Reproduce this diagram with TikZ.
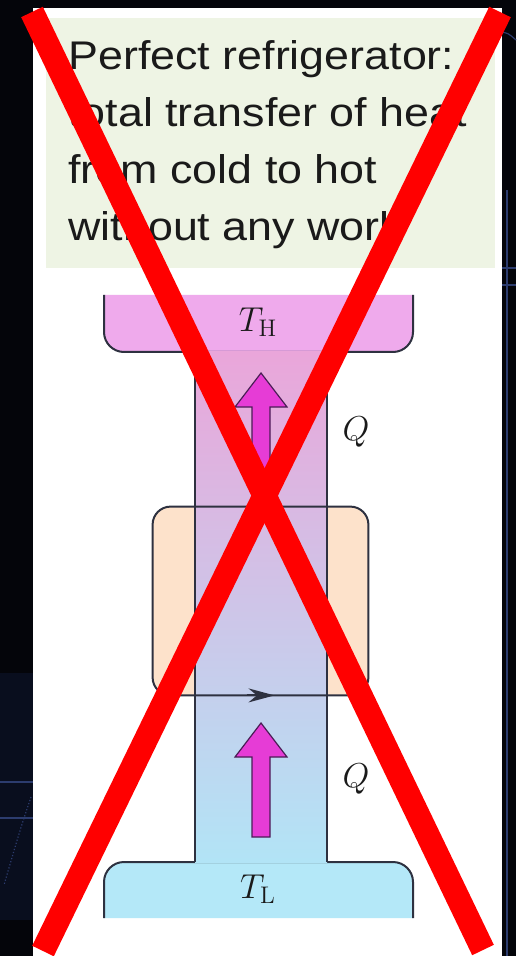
\documentclass[tikz,border=0pt]{standalone}
\usepackage[no-math]{fontspec}
\newfontfamily\panelfont{Liberation Sans}
\usetikzlibrary{arrows.meta, calc}
\definecolor{ink}{HTML}{1A1A1A}
\definecolor{edge}{HTML}{2E3140}
\definecolor{night}{HTML}{04050A}
\definecolor{nightband}{HTML}{090E1E}
\definecolor{gridblue}{HTML}{2C3C6E}
\definecolor{panelgreen}{HTML}{EEF4E4}
\definecolor{hotres}{HTML}{EFAAEC}
\definecolor{colhot}{HTML}{EAA6DA}
\definecolor{colmid}{HTML}{D6B8E2}
\definecolor{colcold}{HTML}{B2E4F6}
\definecolor{coldres}{HTML}{B4E8F8}
\definecolor{peach}{HTML}{FDE2CB}
\definecolor{heatfill}{HTML}{E63CD6}
\definecolor{heatedge}{HTML}{4A1D55}
\definecolor{crossred}{HTML}{FF0000}
\tikzset{
  outline/.style={draw=edge, line width=1pt},
  reservoir/.style={outline, rounded corners=10pt},
  enginebox/.style={fill=peach, rounded corners=9pt, inner sep=0pt,
                    minimum width=107.5pt, minimum height=94pt},
  heat/.style={fill=heatfill, draw=heatedge, line width=0.6pt},
  lbl/.style={font=\fontsize{17}{20}\selectfont, text=ink, inner sep=0pt},
  caption/.style={font=\panelfont\fontsize{20}{24}\selectfont, text=ink,
                  anchor=base west, inner sep=0pt, xscale=1.12, transform shape},
  cross/.style={draw=crossred, line width=12pt},
  gridline/.style={draw=gridblue, line width=0.6pt},
}
\begin{document}
\begin{tikzpicture}[x=0.5pt, y=-0.5pt]
\useasboundingbox (0,0) rectangle (516,956);

% ------------------------------------------------------------- backdrop
\fill[night] (0,0) rectangle (516,956);
\fill[nightband] (0,673) rectangle (33,920);
\draw[gridline] (0,782) -- (33,782) (0,818) -- (33,818);
\draw[gridline, densely dotted] (31,797) .. controls (20,830) .. (4,885);
\draw[gridline] (507,190) -- (507,956) (502,268) -- (516,268) (502,285) -- (516,285);
\draw[gridline] (500,32) .. controls (508,33) .. (516,40);

% ---------------------------------------------------------------- panel
\fill[white] (33,8) rectangle (502,956);
\fill[panelgreen] (46,18) rectangle (495,268);
\foreach \txt [count=\i from 0] in {Perfect refrigerator:, total transfer of heat,
                                    from cold to hot, without any work}
  \node[caption] (line\i) at (68,{70+57*\i}) {\txt};

% ----------------------------------------------------------- reservoirs
\filldraw[reservoir, fill=hotres] (104,295) -- (104,352) -- (413,352) -- (413,295);
\filldraw[reservoir, fill=coldres] (104,918) -- (104,862) -- (413,862) -- (413,918);
\node[lbl] (hot) at (258,322) {$T_{\mathrm{H}}$};
\node[lbl] (cold) at (258,889) {$T_{\mathrm{L}}$};

% --------------------------------------------------------------- engine
\node[enginebox] (eng) at (260.5,601) {};
\shade[top color=colhot, middle color=colmid, bottom color=colcold]
  (195,352) rectangle (327,862);
\draw[outline] (195,352) -- (195,862) (327,352) -- (327,862);
\draw[outline, rounded corners=9pt] (eng.north west) rectangle (eng.south east);
\draw[outline, -{Stealth[length=13pt, width=7pt]}]
  ($(eng.south)+(-14,0)$) -- ($(eng.south)+(14,0)$);

% ------------------------------------------------------------ heat flow
\foreach \tip in {373,723}
  \filldraw[heat] (261,\tip) -- ++(26,34) -- ++(-17,0) -- ++(0,80)
                  -- ++(-18,0) -- ++(0,-80) -- ++(-17,0) -- cycle;
\node[lbl] (qtop) at (356,432) {$Q$};
\node[lbl] (qbot) at (356,779) {$Q$};

% ---------------------------------------------------------------- cross
\coordinate (xa) at (32,12);  \coordinate (xb) at (483,950);
\coordinate (xc) at (500,12); \coordinate (xd) at (43,951);
\draw[cross] (xa) -- (xb);
\draw[cross] (xc) -- (xd);

\end{tikzpicture}
\end{document}
